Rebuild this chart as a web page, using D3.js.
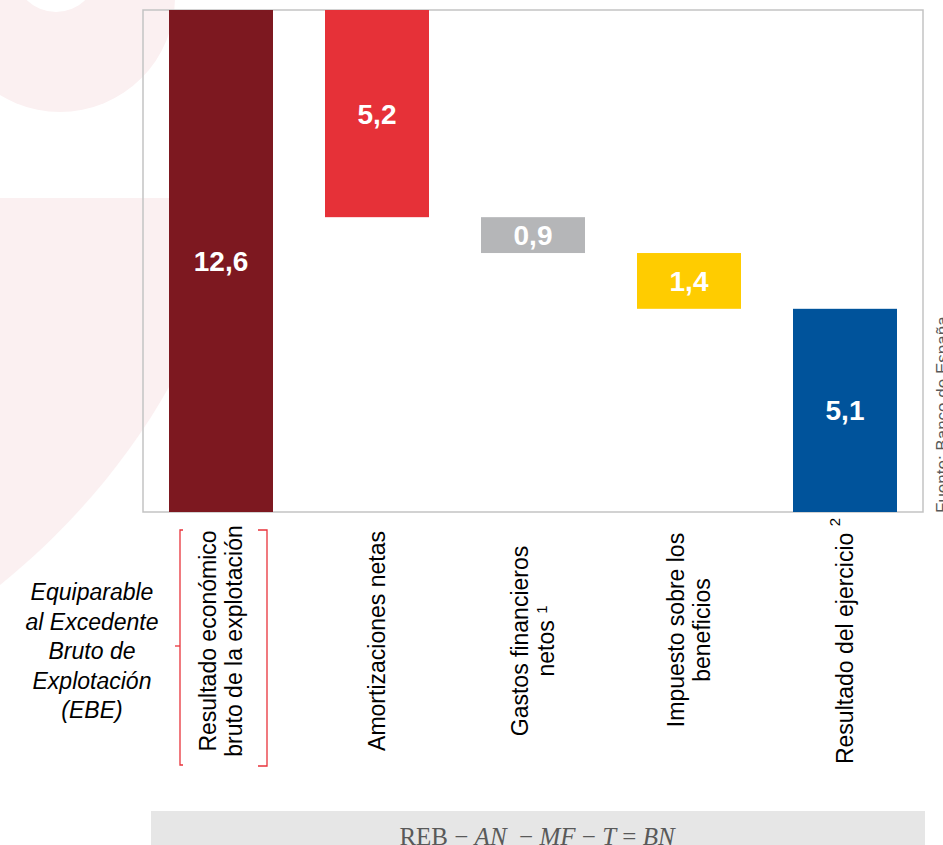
<!DOCTYPE html>
<html>
<head>
<meta charset="utf-8">
<script src="https://cdn.jsdelivr.net/npm/d3@7"></script>
<style>
  body { margin: 0; background: #fff; }
  svg { display: block; font-family: "Liberation Sans", Arial, sans-serif; }
  .cat-label { font-size: 23px; fill: #000; }
  .value-label { font-size: 28px; font-weight: bold; fill: #fff; }
  .note { font-size: 23px; font-style: italic; fill: #000; }
  .source { font-size: 17px; fill: #595959; }
  .formula { font-family: "Liberation Serif", serif; font-size: 25px; fill: #595959; white-space: pre; }
</style>
</head>
<body>
<div id="chart"></div>
<script>
// data
const categories = ["REB", "AN", "MF", "T", "BN"];
const labelLines = [
  ["Resultado económico", "bruto de la explotación"],
  ["Amortizaciones netas"],
  ["Gastos financieros", "netos "],
  ["Impuesto sobre los", "beneficios"],
  ["Resultado del ejercicio "]
];
const labelNotes = ["", "", "1", "", "2"];
const values = [12.6, 5.2, 0.9, 1.4, 5.1];
const kinds = ["total", "decrease", "decrease", "decrease", "total"];
const barColors = ["#7d1820", "#e63138", "#b5b6b8", "#ffcc00", "#00539b"];
const ebeNote = ["Equiparable", "al Excedente", "Bruto de", "Explotación", "(EBE)"];

// dimensions
const width = 943, height = 845;
const plot = {left: 143, right: 923, top: 10, bottom: 512};

const svg = d3.select("#chart")
  .append("svg")
    .attr("width", width)
    .attr("height", height);

// background logo shapes (very light pink)
const bg = svg.append("g").attr("fill", "#fbf0f1");
bg.append("circle").attr("cx", 60).attr("cy", -3).attr("r", 115);
bg.append("circle").attr("cx", 56).attr("cy", -30).attr("r", 42).attr("fill", "#fff");
bg.append("path").attr("d", "M0,198H228C222,330 130,480 0,585Z");

// waterfall start / end
let running = 0;
const bars = values.map((v, i) => {
  let y0, y1;
  if (kinds[i] === "total") { y0 = 0; y1 = v; running = v; }
  else { y1 = running; y0 = running - v; running = y0; }
  return {cat: categories[i], value: v, y0: y0, y1: y1, color: barColors[i], i: i};
});

const x = d3.scaleBand()
  .domain(categories)
  .range([plot.left, plot.right])
  .paddingInner(1/3)
  .paddingOuter(1/6);

const y = d3.scaleLinear()
  .domain([0, 12.6])
  .range([plot.bottom, plot.top]);

// plot frame
svg.append("rect")
  .attr("x", plot.left)
  .attr("y", plot.top)
  .attr("width", plot.right - plot.left)
  .attr("height", plot.bottom - plot.top)
  .attr("fill", "none")
  .attr("stroke", "#c3c3c3")
  .attr("stroke-width", 1.5);

// bars
svg.selectAll("rect.bar")
  .data(bars)
  .join("rect")
    .attr("class", "bar")
    .attr("x", d => x(d.cat))
    .attr("y", d => y(d.y1))
    .attr("width", x.bandwidth())
    .attr("height", d => y(d.y0) - y(d.y1))
    .attr("fill", d => d.color);

const fmt = d3.formatLocale({decimal: ",", thousands: ".", grouping: [3], currency: ["", "€"]}).format(".1f");

svg.selectAll("text.value-label")
  .data(bars)
  .join("text")
    .attr("class", "value-label")
    .attr("x", d => x(d.cat) + x.bandwidth() / 2)
    .attr("y", d => (y(d.y0) + y(d.y1)) / 2)
    .attr("dy", "0.36em")
    .attr("text-anchor", "middle")
    .text(d => fmt(d.value));

// category labels, rotated
const labelMid = 641, lineGap = 26;
const labelMidFor = {T: 630};
const labels = svg.selectAll("g.cat")
  .data(bars)
  .join("g")
    .attr("class", "cat")
    .attr("transform", d => `translate(${x(d.cat) + x.bandwidth() / 2},${labelMidFor[d.cat] || labelMid}) rotate(-90)`);

labels.each(function(d) {
  const lines = labelLines[d.i];
  const g = d3.select(this);
  lines.forEach((line, j) => {
    const t = g.append("text")
      .attr("class", "cat-label")
      .attr("text-anchor", "middle")
      .attr("y", (j - (lines.length - 1) / 2) * lineGap + 8)
      .attr("xml:space", "preserve");
    t.append("tspan").text(line);
    if (j === lines.length - 1 && labelNotes[d.i]) {
      t.append("tspan")
        .attr("font-size", 15)
        .attr("dy", d.i === 4 ? -13 : -7)
        .text(labelNotes[d.i]);
    }
  });
});

// red bracket around first label
const bx0 = x(categories[0]) + 11, bx1 = x(categories[0]) + 98;
const bracket = svg.append("g")
  .attr("fill", "none")
  .attr("stroke", "#e8333b")
  .attr("stroke-width", 1.3);
bracket.append("path").attr("d", `M${bx0 + 3},530H${bx0}V765H${bx0 + 3}`);
bracket.append("path").attr("d", `M${bx0 - 5},646H${bx0}`);
bracket.append("path").attr("d", `M${bx1 - 9},530H${bx1}V766H${bx1 - 9}`);

// EBE note
svg.append("text")
  .attr("class", "note")
  .attr("text-anchor", "middle")
  .selectAll("tspan")
  .data(ebeNote)
  .join("tspan")
    .attr("x", 92)
    .attr("y", (d, i) => 651 + (i - 2) * 29.5 + 8)
    .text(d => d);

// source, rotated along right edge
svg.append("text")
  .attr("class", "source")
  .attr("transform", "translate(948,513) rotate(-90)")
  .text("Fuente: Banco de España");

// formula box
svg.append("rect")
  .attr("x", 151)
  .attr("y", 811)
  .attr("width", 774)
  .attr("height", 40)
  .attr("fill", "#e6e6e6");

const formula = svg.append("text")
  .attr("class", "formula")
  .attr("x", 537)
  .attr("y", 845)
  .attr("text-anchor", "middle")
  .attr("xml:space", "preserve");
[["REB − ", false], ["AN", true], ["  − ", false], ["MF", true], [" − ", false],
 ["T", true], [" = ", false], ["BN", true]].forEach(p => {
  formula.append("tspan").attr("font-style", p[1] ? "italic" : "normal").text(p[0]);
});
</script>
</body>
</html>
